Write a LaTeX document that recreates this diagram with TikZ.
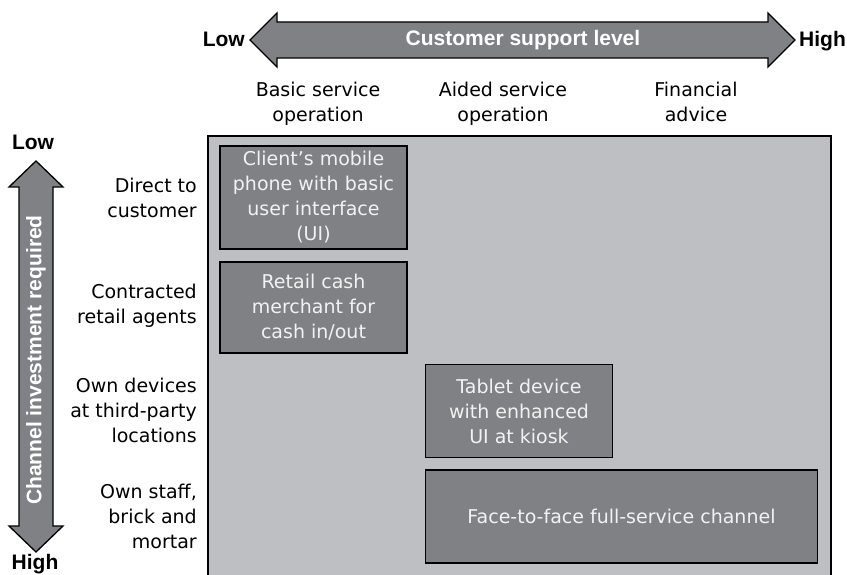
\documentclass[tikz,border=0pt]{standalone}
\usepackage{fontspec}
\setmainfont{DejaVu Sans}
\newfontfamily\axisfont{Liberation Sans}
\usetikzlibrary{positioning}
\definecolor{panelgray}{RGB}{190,191,195}
\definecolor{boxgray}{RGB}{128,129,133}
\definecolor{boxtext}{RGB}{242,242,242}

\begin{document}
\begin{tikzpicture}[
  x=1pt, y=-1pt,
  font=\fontsize{19}{25}\selectfont,
  every node/.style={align=center, inner sep=0pt},
  cell/.style={draw=black, line width=1.8pt, fill=boxgray, text=boxtext,
               minimum width=187pt},
  rowlab/.style={anchor=east, align=right},
  collab/.style={anchor=north},
  axis/.style={draw=black, line width=1.3pt, fill=boxgray, line join=miter},
  axislab/.style={font=\fontsize{21}{25}\selectfont\axisfont\bfseries}
]
\useasboundingbox (0,0) rectangle (847,575);
% matrix panel
\fill[panelgray] (208,136) rectangle (831,580);
\draw[line width=1.6pt] (208,580) -- (208,136) -- (831,136) -- (831,580);

% support level axis
\draw[axis] (250,40) -- (277,13) -- (277,22) -- (768,22) -- (768,13) -- (795,40)
  -- (768,67) -- (768,58) -- (277,58) -- (277,67) -- cycle;
\node[axislab, text=white] (support) at (523,40) {Customer support level};
\node[axislab, anchor=base east] (slow) at (245,47) {Low};
\node[axislab, anchor=base west] (shigh) at (799,47) {High};

% investment axis
\draw[axis] (36,161) -- (63,187) -- (53,187) -- (53,526) -- (63,526) -- (36,552)
  -- (9,526) -- (19,526) -- (19,187) -- (9,187) -- cycle;
\node[axislab, text=white, rotate=90] (invest) at (36,360) {Channel investment required};
\node[axislab, anchor=base] (ilow) at (33,150) {Low};
\node[axislab, anchor=base] (ihigh) at (35,569) {High};

% columns
\node[collab] (basic) at (318,82) {Basic service\\operation};
\node[collab] (aided) at (503,82) {Aided service\\operation};
\node[collab] (advice) at (696,82) {Financial\\advice};

% rows
\node[rowlab] (direct) at (197,198) {Direct to\\customer};
\node[rowlab] (contract) at (197,306) {Contracted\\retail agents};
\node[rowlab] (owndev) at (197,410) {Own devices\\at third-party\\locations};
\node[rowlab] (ownstaff) at (197,516) {Own staff,\\brick and\\mortar};

% channels
\node[cell, minimum height=103pt] (phone) at (313.5,197.5)
  {Client’s mobile\\phone with basic\\user interface\\(UI)};
\node[cell, minimum height=91pt, below=11pt of phone] (merchant)
  {Retail cash\\merchant for\\cash in/out};
\node[cell, minimum height=93pt] (tablet) at (519,411)
  {Tablet device\\with enhanced\\UI at kiosk};
\node[cell, minimum height=93pt, minimum width=392pt,
      below=11pt of tablet.south west, anchor=north west] (facetoface)
  {Face-to-face full-service channel};
\end{tikzpicture}
\end{document}
